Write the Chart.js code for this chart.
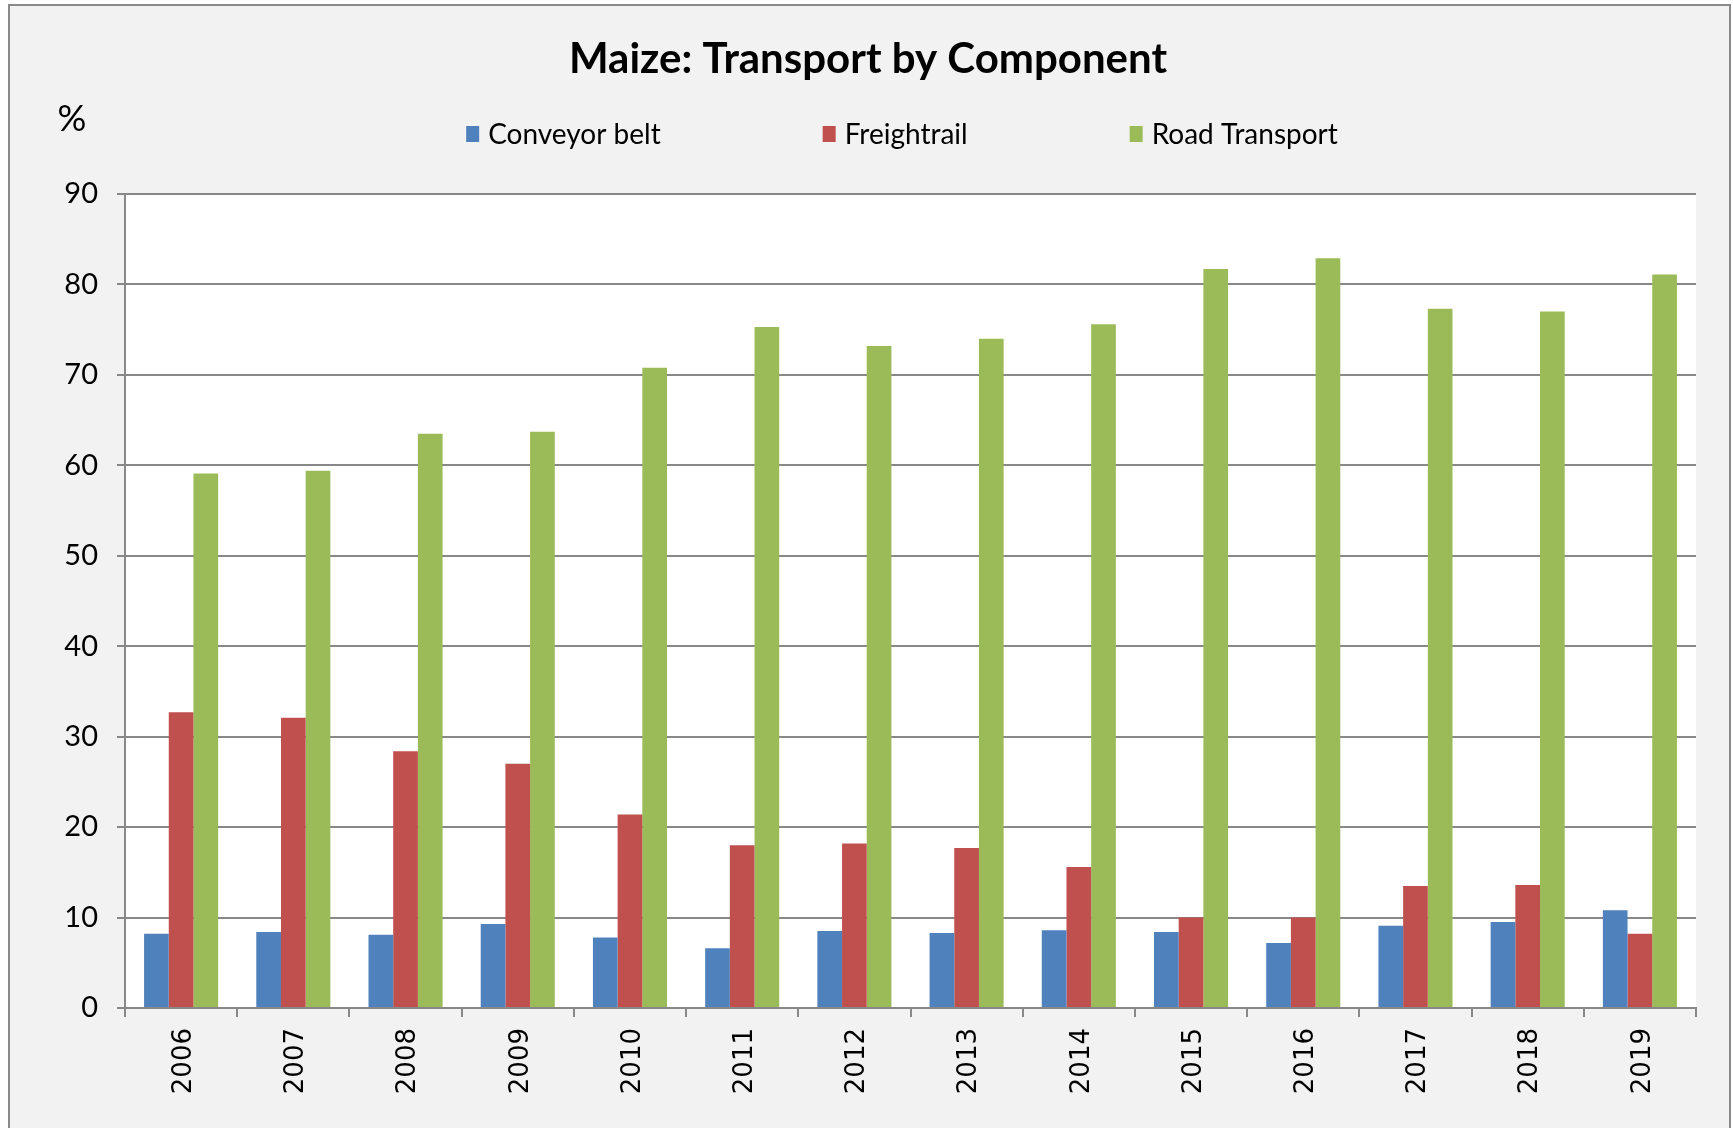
<!DOCTYPE html>
<html>
<head>
<meta charset="utf-8">
<script src="https://cdn.jsdelivr.net/npm/chart.js@4.4.0/dist/chart.umd.min.js"></script>
<style>
  html, body { margin: 0; padding: 0; background: #ffffff; }
  #wrap { width: 1733px; height: 1128px; position: relative; }
</style>
</head>
<body>
<div id="wrap"><canvas id="maizeChart" width="1733" height="1128"></canvas></div>
<script>
var years = ['2006', '2007', '2008', '2009', '2010', '2011', '2012', '2013', '2014', '2015', '2016', '2017', '2018', '2019'];
var conveyorBelt = [8.2, 8.4, 8.1, 9.3, 7.8, 6.6, 8.5, 8.3, 8.6, 8.4, 7.2, 9.1, 9.5, 10.8];
var freightrail = [32.7, 32.1, 28.4, 27.0, 21.4, 18.0, 18.2, 17.7, 15.6, 10.0, 10.0, 13.5, 13.6, 8.2];
var roadTransport = [59.1, 59.4, 63.5, 63.7, 70.8, 75.3, 73.2, 74.0, 75.6, 81.7, 82.9, 77.3, 77.0, 81.1];
var yTicks = [0, 10, 20, 30, 40, 50, 60, 70, 80, 90];

var chartTitle = 'Maize: Transport by Component';
var yUnit = '%';

var gridColor = '#888888';

// frame, grey background, white plot area, title, unit and legend
var decorPlugin = {
  id: 'decor',
  beforeDraw: function(chart) {
    var ctx = chart.ctx;
    var area = chart.chartArea;
    ctx.save();
    ctx.fillStyle = '#ffffff';
    ctx.fillRect(0, 0, chart.width, chart.height);
    ctx.fillStyle = '#f2f2f2';
    ctx.fillRect(9, 5, 1721, chart.height);
    ctx.strokeStyle = '#8a8a8a';
    ctx.lineWidth = 2;
    ctx.beginPath();
    ctx.moveTo(9, chart.height + 5);
    ctx.lineTo(9, 5);
    ctx.lineTo(1730, 5);
    ctx.lineTo(1730, chart.height + 5);
    ctx.stroke();
    ctx.fillStyle = '#ffffff';
    ctx.fillRect(area.left, area.top, area.right - area.left, area.bottom - area.top);
    ctx.restore();
  },
  afterDraw: function(chart) {
    var ctx = chart.ctx;
    ctx.save();
    ctx.fillStyle = '#000000';
    ctx.textBaseline = 'alphabetic';
    ctx.textAlign = 'center';
    ctx.font = 'bold 42px Lato';
    ctx.fillText(chartTitle, 868, 73);

    ctx.font = '36px Lato';
    ctx.textBaseline = 'middle';
    ctx.fillText(yUnit, 72, 119);

    // legend
    ctx.font = '28px Lato';
    ctx.textAlign = 'left';
    var sets = chart.data.datasets;
    var gap = 162;
    var widths = [];
    var total = 0;
    for (var i = 0; i < sets.length; i++) {
      var w = 22 + ctx.measureText(sets[i].label).width;
      widths.push(w);
      total += w;
    }
    total += gap * (sets.length - 1);
    var x = 902 - total / 2;
    var y = 134;
    for (var j = 0; j < sets.length; j++) {
      ctx.fillStyle = sets[j].backgroundColor;
      ctx.fillRect(x, y - 8, 13, 16);
      ctx.fillStyle = '#000000';
      ctx.fillText(sets[j].label, x + 22, y + 1);
      x += widths[j] + gap;
    }
    ctx.restore();
  }
};

var data = {
  labels: years,
  datasets: [
    { label: 'Conveyor belt', data: conveyorBelt, backgroundColor: '#4f81bd' },
    { label: 'Freightrail', data: freightrail, backgroundColor: '#c0504d' },
    { label: 'Road Transport', data: roadTransport, backgroundColor: '#9bbb59' }
  ]
};

var ctx = document.getElementById('maizeChart');
var maizeChart = new Chart(ctx, {
  type: 'bar',
  data: data,
  plugins: [decorPlugin],
  options: {
    responsive: false,
    animation: false,
    devicePixelRatio: 1,
    layout: {
      padding: { top: 194, right: 37, bottom: 0, left: 10 }
    },
    datasets: {
      bar: { categoryPercentage: 0.66, barPercentage: 1.0 }
    },
    plugins: {
      legend: { display: false },
      title: { display: false },
      tooltip: { enabled: false }
    },
    scales: {
      x: {
        offset: true,
        afterFit: function(scale) { scale.height = 120; },
        grid: {
          offset: true,
          drawOnChartArea: false,
          drawTicks: true,
          tickLength: 9,
          color: gridColor,
          lineWidth: 2
        },
        border: { display: true, color: gridColor, width: 2 },
        ticks: {
          color: '#000000',
          font: { family: 'DejaVu Sans', size: 26 },
          minRotation: 90,
          maxRotation: 90,
          padding: 11,
          labelOffset: 3,
          autoSkip: false
        }
      },
      y: {
        min: 0,
        max: 90,
        afterFit: function(scale) { scale.width = 115; },
        afterBuildTicks: function(scale) {
          scale.ticks = yTicks.map(function(v) { return { value: v }; });
        },
        grid: {
          color: gridColor,
          lineWidth: 2,
          tickLength: 8
        },
        border: { display: true, color: gridColor, width: 2 },
        ticks: {
          color: '#000000',
          font: { family: 'Lato', size: 29 },
          padding: 19
        }
      }
    }
  }
});
</script>
</body>
</html>
